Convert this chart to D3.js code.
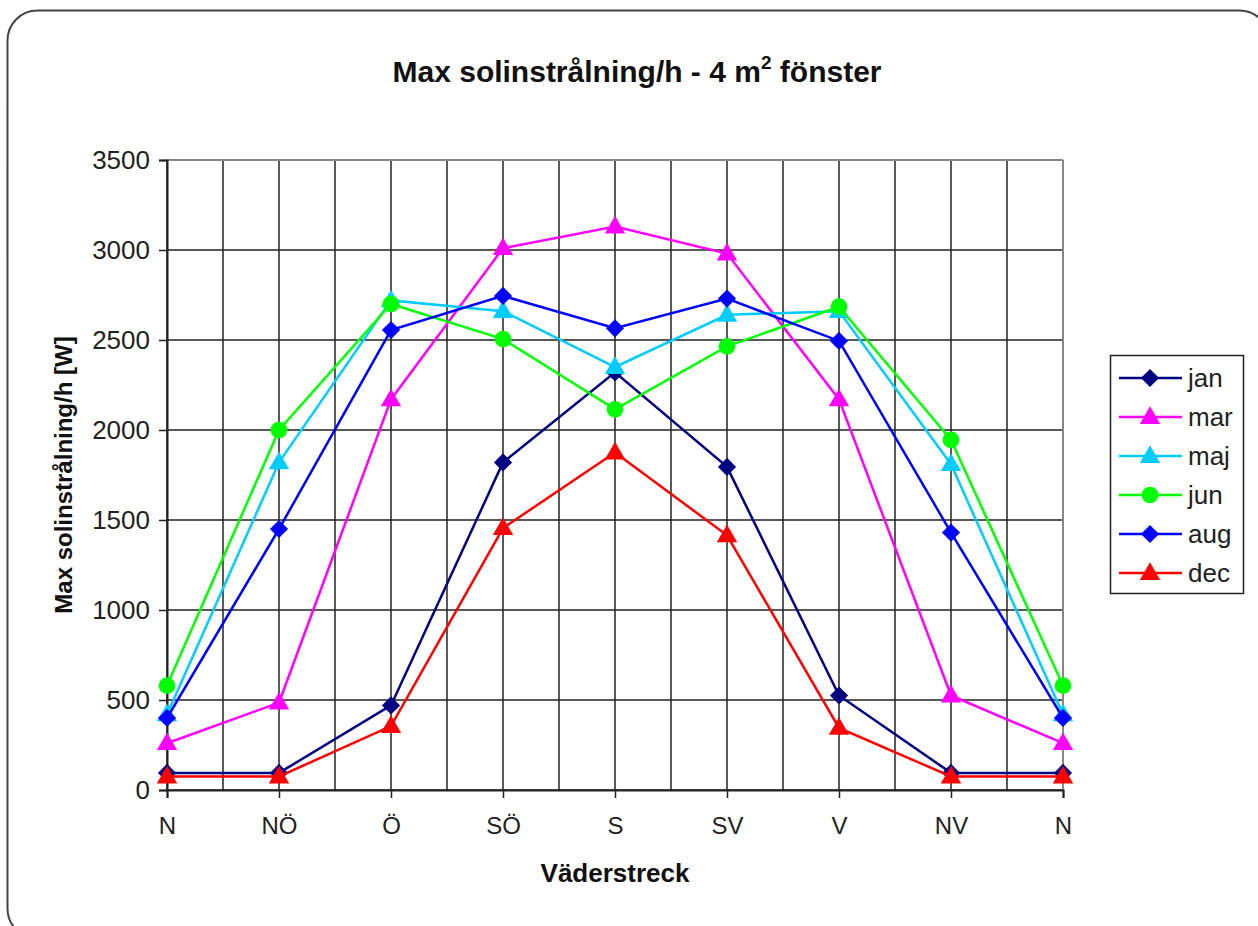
<!DOCTYPE html>
<html>
<head>
<meta charset="utf-8">
<script src="https://cdn.jsdelivr.net/npm/d3@7"></script>
<style>
  html, body { margin: 0; padding: 0; background: #fff; }
  svg { display: block; font-family: "Liberation Sans", Arial, sans-serif; }
</style>
</head>
<body>
<svg id="chart" width="1258" height="926"></svg>
<script>
// Compass directions along the x axis
const directions = ["N", "NÖ", "Ö", "SÖ", "S", "SV", "V", "NV", "N"];
const yTicks = [0, 500, 1000, 1500, 2000, 2500, 3000, 3500];

// Max solar radiation per hour [W] through a 4 m² window
const jan = [95, 95, 470, 1820, 2320, 1795, 525, 95, 95];
const mar = [260, 485, 2170, 3010, 3130, 2980, 2170, 525, 260];
const maj = [420, 1820, 2720, 2660, 2350, 2640, 2660, 1810, 420];
const jun = [580, 2000, 2700, 2505, 2115, 2465, 2685, 1945, 580];
const aug = [400, 1450, 2555, 2745, 2565, 2730, 2495, 1430, 400];
const dec = [75, 75, 355, 1455, 1875, 1415, 345, 75, 75];

const series = [
  { name: "jan", values: jan, color: "#000080", marker: "diamond" },
  { name: "mar", values: mar, color: "#FF00FF", marker: "triangle" },
  { name: "maj", values: maj, color: "#00CCFF", marker: "triangle" },
  { name: "jun", values: jun, color: "#00FF00", marker: "circle" },
  { name: "aug", values: aug, color: "#0000FF", marker: "diamond" },
  { name: "dec", values: dec, color: "#FF0000", marker: "triangle" }
];

const svg = d3.select("#chart");

// Outer rounded frame
svg.append("rect")
  .attr("x", 7.5).attr("y", 10.5)
  .attr("width", 1262).attr("height", 928)
  .attr("rx", 30).attr("ry", 30)
  .attr("fill", "#fff").attr("stroke", "#444").attr("stroke-width", 2);

const plot = { left: 167, right: 1063, top: 160, bottom: 790 };

const x = d3.scaleLinear().domain([0, directions.length - 1]).range([plot.left, plot.right]);
const y = d3.scaleLinear().domain([0, 3500]).range([plot.bottom, plot.top]);

// Grid: vertical lines every half category, horizontal at each tick
const g = svg.append("g");
const halfSteps = d3.range(0, directions.length - 0.5, 0.5);
g.selectAll(".vgrid").data(halfSteps).join("line")
  .attr("x1", d => x(d)).attr("x2", d => x(d))
  .attr("y1", plot.top).attr("y2", plot.bottom)
  .attr("stroke", "#222").attr("stroke-width", 1.5);
g.selectAll(".hgrid").data(yTicks).join("line")
  .attr("x1", plot.left).attr("x2", plot.right)
  .attr("y1", d => y(d)).attr("y2", d => y(d))
  .attr("stroke", "#222").attr("stroke-width", 1.5);

// Plot area frame (top and right in grey)
g.append("line").attr("x1", plot.left).attr("x2", plot.right)
  .attr("y1", plot.top).attr("y2", plot.top)
  .attr("stroke", "#888").attr("stroke-width", 2);
g.append("line").attr("x1", plot.right).attr("x2", plot.right)
  .attr("y1", plot.top).attr("y2", plot.bottom)
  .attr("stroke", "#888").attr("stroke-width", 2);

// Y axis
const yAxis = svg.append("g")
  .attr("transform", `translate(${plot.left},0)`)
  .call(d3.axisLeft(y).tickValues(yTicks).tickSize(8).tickPadding(9).tickFormat(d3.format("d")));
yAxis.select(".domain").attr("stroke", "#222").attr("stroke-width", 2);
yAxis.selectAll(".tick line").attr("stroke", "#222").attr("stroke-width", 1.5);
yAxis.selectAll("text").attr("font-size", 26).attr("fill", "#222")
  .attr("font-family", "Liberation Sans, Arial, sans-serif");

// X axis
const xAxis = svg.append("g")
  .attr("transform", `translate(0,${plot.bottom})`)
  .call(d3.axisBottom(x).tickValues(d3.range(directions.length))
    .tickSize(8).tickPadding(19).tickFormat(i => directions[i]));
xAxis.select(".domain").attr("stroke", "#222").attr("stroke-width", 2);
xAxis.selectAll(".tick line").attr("stroke", "#222").attr("stroke-width", 1.5);
xAxis.selectAll("text").attr("font-size", 24).attr("fill", "#222")
  .attr("font-family", "Liberation Sans, Arial, sans-serif");

// Marker symbols
const markerPath = {
  diamond: d3.symbol().type(d3.symbolSquare).size(165)(),
  triangle: d3.symbol().type(d3.symbolTriangle).size(180)(),
  circle: d3.symbol().type(d3.symbolCircle).size(220)()
};
const markerTransform = (s, cx, cy) =>
  `translate(${cx},${cy + (s.marker === "triangle" ? 1 : 0)})${s.marker === "diamond" ? " rotate(45)" : ""}`;

const line = d3.line().x((d, i) => x(i)).y(d => y(d));

const seriesG = svg.append("g");
series.forEach(s => {
  const sg = seriesG.append("g");
  sg.append("path").datum(s.values)
    .attr("d", line).attr("fill", "none")
    .attr("stroke", s.color).attr("stroke-width", 2.5);
  sg.selectAll("path.m").data(s.values).join("path")
    .attr("class", "m")
    .attr("d", markerPath[s.marker])
    .attr("transform", (d, i) => markerTransform(s, x(i), y(d)))
    .attr("fill", s.color);
});

// Title with superscript
const title = svg.append("text")
  .attr("x", 637).attr("y", 82)
  .attr("text-anchor", "middle")
  .attr("font-size", 30).attr("font-weight", "bold").attr("fill", "#111");
title.append("tspan").text("Max solinstrålning/h - 4 m");
title.append("tspan").text("2").attr("font-size", 19).attr("dy", -13);
title.append("tspan").text(" fönster").attr("dy", 13);

// Axis titles
svg.append("text")
  .attr("x", x(4)).attr("y", 882)
  .attr("text-anchor", "middle")
  .attr("font-size", 26).attr("font-weight", "bold").attr("fill", "#111")
  .text("Väderstreck");
svg.append("text")
  .attr("transform", `translate(72,${(plot.top + plot.bottom) / 2}) rotate(-90)`)
  .attr("text-anchor", "middle")
  .attr("font-size", 24).attr("font-weight", "bold").attr("fill", "#111")
  .text("Max solinstrålning/h [W]");

// Legend
const legend = svg.append("g").attr("transform", "translate(1110,355)");
legend.append("rect")
  .attr("x", 0.5).attr("y", 0.5).attr("width", 133).attr("height", 238)
  .attr("fill", "#fff").attr("stroke", "#222").attr("stroke-width", 1.5);
series.forEach((s, i) => {
  const ly = 23 + i * 39;
  const row = legend.append("g").attr("transform", `translate(0,${ly})`);
  row.append("line").attr("x1", 9).attr("x2", 72).attr("y1", 0).attr("y2", 0)
    .attr("stroke", s.color).attr("stroke-width", 2.5);
  row.append("path")
    .attr("d", markerPath[s.marker])
    .attr("transform", markerTransform(s, 40, 0))
    .attr("fill", s.color);
  row.append("text").attr("x", 78).attr("y", 9)
    .attr("font-size", 26).attr("fill", "#222").text(s.name);
});
</script>
</body>
</html>
